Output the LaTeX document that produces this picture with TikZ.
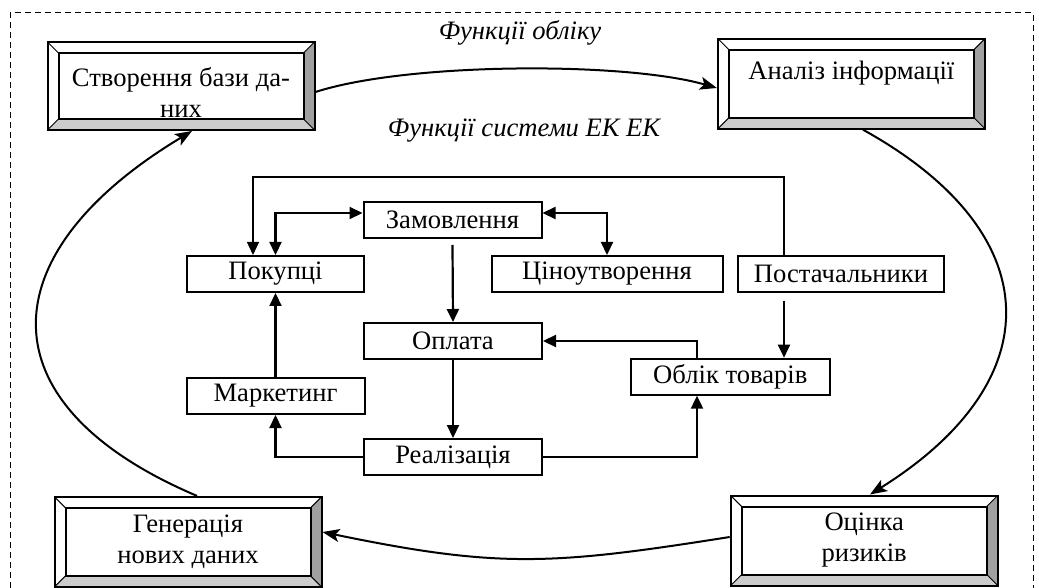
\documentclass[tikz,border=0pt]{standalone}
\usepackage{fontspec}
\setmainfont{Liberation Serif}
\usetikzlibrary{arrows.meta}
\definecolor{bevdark}{HTML}{A0A0A0}
\definecolor{bevlight}{HTML}{CCCCCC}
\tikzset{
  txt/.style={font=\fontsize{13.3}{15.5}\selectfont},
  bevel/.style={draw, line width=1pt, minimum width=133.5pt, minimum height=45pt,
    inner sep=0pt, fill=white,
    path picture={
      \coordinate (pSW) at (path picture bounding box.south west);
      \coordinate (pNE) at (path picture bounding box.north east);
      \coordinate (pSE) at (pNE |- pSW);
      \coordinate (pNW) at (pSW |- pNE);
      \coordinate (iSW) at ([shift={(5.5pt,5.5pt)}]pSW);
      \coordinate (iNE) at ([shift={(-5.5pt,-5.5pt)}]pNE);
      \coordinate (iSE) at (iNE |- iSW);
      \coordinate (iNW) at (iSW |- iNE);
      \fill[bevdark] (pNE) -- (pSE) -- (iSE) -- (iNE) -- cycle;
      \fill[bevlight] (pSW) -- (pSE) -- (iSE) -- (iSW) -- cycle;
      \draw[line width=0.5pt] (pSW) -- (iSW) (pSE) -- (iSE) (pNE) -- (iNE) (pNW) -- (iNW);
      \draw[line width=1pt] (iSW) rectangle (iNE);
    }},
  btext/.style={txt, align=center, inner sep=0pt},
  lab/.style={font=\fontsize{13.3}{15.5}\selectfont\itshape, inner sep=0pt},
  ibox/.style={txt, draw, line width=1pt, minimum height=18pt, inner sep=0pt, fill=white},
  conn/.style={line width=1.1pt, >={Triangle[length=6.5pt,width=6pt]}},
  thinconn/.style={line width=0.65pt, >={Triangle[length=6.5pt,width=6pt]}},
  ell/.style={line width=1pt, -{Stealth[length=8.5pt,width=6.5pt,inset=2pt]}},
  frame/.style={line width=0.5pt, dash pattern=on 3pt off 2pt}
}
\begin{document}
\begin{tikzpicture}[x=0.5pt,y=0.5pt]
\useasboundingbox (0,0) rectangle (1039,-588);
\draw[frame] (10,-588) -- (10,-13) -- (1033,-13) -- (1033,-588);

% corner boxes
\node[bevel, minimum height=44pt] (b1) at (181,-86) {};
\node[bevel] (b2) at (851.4,-83.7) {};
\node[bevel] (b3) at (188,-541.9) {};
\node[bevel] (b4) at (864.2,-540.5) {};
\node[btext] (t1) at ([yshift=-3.25pt]b1.center) {Створення бази да-\\них};
\node[btext] (t2) at ([yshift=5.35pt]b2.center) {Аналіз інформації};
\node[btext] (t3) at (b3.center) {Генерація\\нових даних};
\node[btext] (t4) at (b4.center) {Оцінка\\ризиків};

% labels
\node[lab] (l1) at (520,-33) {Функції обліку};
\node[lab] (l2) at (524,-131) {Функції системи ЕК ЕК};

% outer cycle
\draw[ell] (b1.east |- 0,-92) .. controls +(18:96) and +(164:96) .. (b2.west |- 0,-88);
\draw[ell] (863,0 |- b2.south) .. controls +(-29:214) and +(32:214) .. (870,0 |- b4.north);
\draw[ell] (b4.west |- 0,-537) .. controls +(189:180) and +(-11.7:180) .. (b3.east |- 0,-532);
\draw[ell] (197,0 |- b3.north) .. controls +(157:236) and +(211:236) .. (192,0 |- b1.south);

% inner boxes
\node[ibox, minimum width=89pt] (zam) at (452.5,-220) {Замовлення};
\node[ibox, minimum width=88.5pt] (pok) at (275.5,-274) {Покупці};
\node[ibox, minimum width=115.5pt] (cin) at (607,-274) {Ціноутворення};
\node[ibox, minimum width=103pt] (post) at (841,-274) {Постачальники};
\node[ibox, minimum width=89pt] (opl) at (453,-341) {Оплата};
\node[ibox, minimum width=89pt] (mark) at (275.5,-396) {Маркетинг};
\node[ibox, minimum width=89pt] (real) at (453,-457) {Реалізація};
\node[ibox, minimum width=99.5pt] (obl) at (730.3,-376.7) {Облік товарів};

\coordinate (xL) at (697,0);
\coordinate (xP) at (784,0);
\coordinate (xK) at (253,0);
\coordinate (yT) at (0,-177);
\coordinate (pb) at ([yshift=-4pt]post.south);
\coordinate (zb) at ([yshift=-3pt]zam.south);

\draw[thinconn, ->] (xP |- post.north) -- (xP |- yT) -- (xK |- yT) -- (xK |- pok.north);
\draw[conn, <->] ([yshift=3.5pt]zam.west) -| (pok.north);
\draw[conn, <->] ([yshift=3.5pt]zam.east) -| (cin.north);
\draw[conn, ->] (zb) -- (opl.north);
\draw[conn, ->] (mark.north) -- (pok.south);
\draw[conn, ->] (opl.south) -- (real.north);
\draw[conn, ->] (xL |- obl.north) |- (opl.east);
\draw[conn, ->] (real.west) -| (mark.south);
\draw[conn, ->] (real.east) -| (xL |- obl.south);
\draw[conn, ->] (xP |- pb) -- (xP |- obl.north);
\end{tikzpicture}
\end{document}
